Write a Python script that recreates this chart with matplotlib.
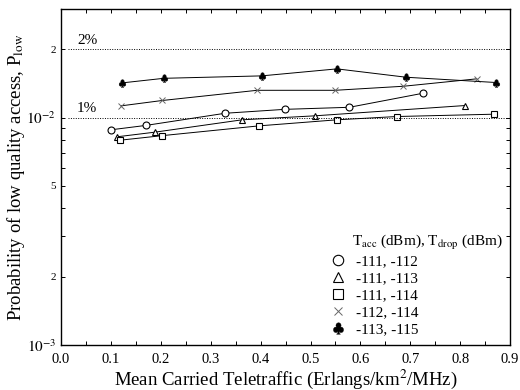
import matplotlib
matplotlib.use("Agg")
import matplotlib.pyplot as plt
from matplotlib.ticker import FixedLocator, FixedFormatter, MultipleLocator

plt.rcParams["font.family"] = ["Liberation Serif", "DejaVu Serif"]
plt.rcParams["mathtext.fontset"] = "stix"

# data
x_111_112 = [0.100, 0.170, 0.329, 0.448, 0.578, 0.725]
y_111_112 = [0.00883, 0.00923, 0.01044, 0.01086, 0.01109, 0.01278]

x_111_113 = [0.113, 0.188, 0.363, 0.508, 0.810]
y_111_113 = [0.00823, 0.00862, 0.00977, 0.01017, 0.01129]

x_111_114 = [0.119, 0.202, 0.397, 0.553, 0.673, 0.867]
y_111_114 = [0.00795, 0.00832, 0.00919, 0.00977, 0.01010, 0.01034]

x_112_114 = [0.120, 0.203, 0.393, 0.549, 0.686, 0.833]
y_112_114 = [0.01125, 0.01188, 0.01317, 0.01317, 0.01372, 0.01479]

x_113_115 = [0.123, 0.206, 0.402, 0.553, 0.692, 0.872]
y_113_115 = [0.0142, 0.01487, 0.01524, 0.01636, 0.01503, 0.01425]

labels = ["-111, -112", "-111, -113", "-111, -114", "-112, -114", "-113, -115"]
ref_levels = [0.02, 0.01]
ref_labels = ["2%", "1%"]

fig = plt.figure(figsize=(5.2, 3.9), dpi=100)
ax = fig.add_axes([0.1173, 0.1154, 0.8637, 0.8616])

lw = 0.7
ax.plot(x_111_112, y_111_112, "-", color="k", lw=lw, marker="o", ms=5,
        mfc="white", mec="k", mew=0.8, label=labels[0])
ax.plot(x_111_113, y_111_113, "-", color="k", lw=lw, marker="^", ms=5,
        mfc="white", mec="k", mew=0.8, label=labels[1])
ax.plot(x_111_114, y_111_114, "-", color="k", lw=lw, marker="s", ms=5,
        mfc="white", mec="k", mew=0.8, label=labels[2])
ax.plot(x_112_114, y_112_114, "-", color="k", lw=lw, marker="x", ms=4,
        mec="#666666", mew=0.7, label=labels[3])
ax.plot(x_113_115, y_113_115, "-", color="k", lw=lw, marker=r"$\clubsuit$",
        ms=5.5, mfc="k", mec="k", mew=0.3, label=labels[4])

for lev, txt in zip(ref_levels, ref_labels):
    ax.plot([0.015, 0.9], [lev, lev], ls=(0, (1, 1.5)), color="k", lw=0.7)
    ax.text(0.032, lev * 1.025, txt, fontsize=11, ha="left", va="bottom")

ax.set_yscale("log")
ax.set_xlim(0, 0.9)
ax.set_ylim(1e-3, 3e-2)

ax.xaxis.set_minor_locator(MultipleLocator(0.05))
ax.set_xticks([i / 10 for i in range(10)])
ax.set_xticklabels([f"{i / 10:.1f}" for i in range(10)], fontsize=10.5)

yt = [1e-3, 2e-3, 5e-3, 1e-2, 2e-2]
ax.yaxis.set_major_locator(FixedLocator(yt))
ax.yaxis.set_major_formatter(FixedFormatter(
    [r"$10^{-3}$", "2", "5", r"$10^{-2}$", "2"]))
ax.yaxis.set_minor_locator(FixedLocator(
    [3e-3, 4e-3, 6e-3, 7e-3, 8e-3, 9e-3, 3e-2]))
ax.yaxis.set_minor_formatter(FixedFormatter([""] * 7))
for lab, v in zip(ax.get_yticklabels(), yt):
    lab.set_fontsize(11 if v in (1e-3, 1e-2) else 8)

ax.tick_params(which="both", direction="in", top=True, right=True,
               length=3, width=0.7)
ax.tick_params(axis="x", pad=6)
for s in ax.spines.values():
    s.set_linewidth(1.0)

ax.set_xlabel(r"Mean Carried Teletraffic (Erlangs/km$^2$/MHz)", fontsize=13.5)
ax.set_ylabel(r"Probability of low quality access, P$_{\rm low}$", fontsize=13.5)
ax.xaxis.set_label_coords(0.5, -0.066)
ax.yaxis.set_label_coords(-0.075, 0.5)

# legend title drawn as plain text, entries below it
ax.text(0.648, 0.3036, r"T$_{\rm acc}$ (dBm), T$_{\rm drop}$ (dBm)",
        transform=ax.transAxes, fontsize=11, ha="left", va="center")
leg = ax.legend(loc="lower left", bbox_to_anchor=(0.617, 0.026), frameon=False,
                fontsize=11, handlelength=0, handletextpad=1.2,
                labelspacing=0.22, borderaxespad=0, borderpad=0,
                markerscale=1.5)

fig.savefig("out.png", dpi=100)
